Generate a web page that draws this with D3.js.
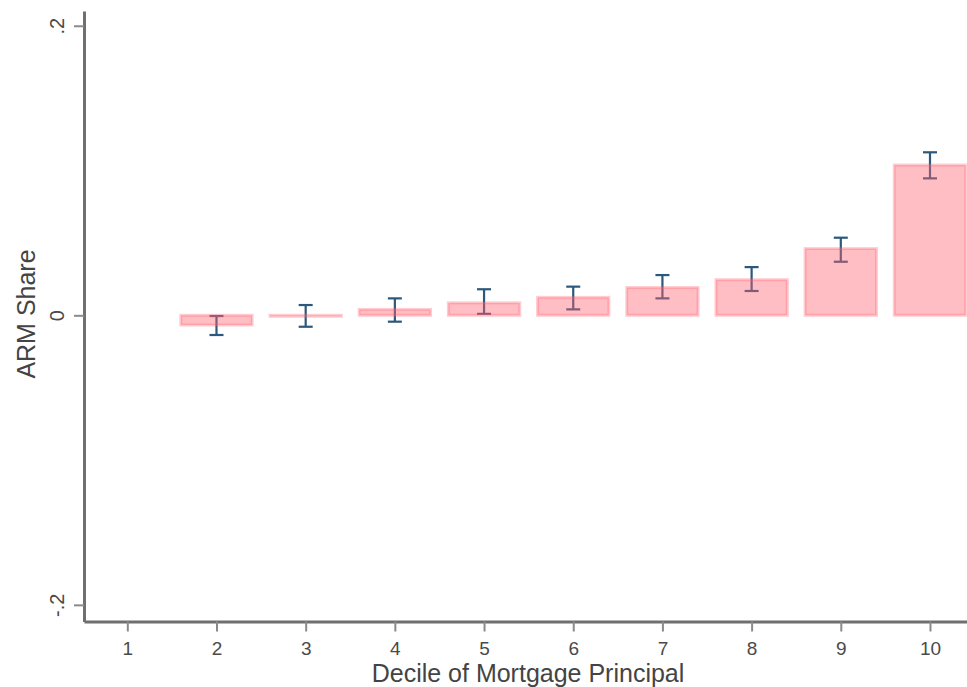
<!DOCTYPE html>
<html>
<head>
<meta charset="utf-8">
<script src="https://cdn.jsdelivr.net/npm/d3@7"></script>
<style>
  body { margin: 0; background: #fff; }
  text { font-family: "Liberation Sans", Arial, sans-serif; }
</style>
</head>
<body>
<div id="chart"></div>
<script>
// chart values
const deciles = [1, 2, 3, 4, 5, 6, 7, 8, 9, 10];
const coef    = [0, -0.0067, -0.0005, 0.0041, 0.0086, 0.0124, 0.0192, 0.0246, 0.0461, 0.1038];
const ciLow   = [null, -0.0136, -0.0079, -0.0044, 0.0010, 0.0041, 0.0117, 0.0168, 0.0370, 0.0946];
const ciHigh  = [null, -0.0005, 0.0071, 0.0117, 0.0180, 0.0198, 0.0278, 0.0333, 0.0536, 0.1126];
const yTicks  = [-0.2, 0, 0.2];

const width = 967, height = 687;
const barCol = "rgb(255,96,111)";
const ciCol = "#2b587c";
const axisCol = "#6f6f6f";

const svg = d3.select("#chart").append("svg")
  .attr("width", width)
  .attr("height", height);

// scales
const x = d3.scaleLinear().domain([0.5145, 10.415]).range([84, 967]);
const y = d3.scaleLinear().domain([-0.2115, 0.2102]).range([621.5, 11]);
const barW = x(1.8) - x(1);

const rows = deciles.map(function(d, i) {
  return {decile: d, b: coef[i], lo: ciLow[i], hi: ciHigh[i]};
});

// error bars (drawn under the translucent bars)
const ci = svg.append("g").attr("class", "ci")
  .selectAll("g")
  .data(rows.filter(function(d){ return d.lo !== null; }))
  .join("g")
    .attr("stroke", ciCol)
    .attr("stroke-width", 2.2);
ci.append("line")
  .attr("x1", d => x(d.decile)).attr("x2", d => x(d.decile))
  .attr("y1", d => y(d.lo)).attr("y2", d => y(d.hi));
ci.append("line")
  .attr("x1", d => x(d.decile) - 7).attr("x2", d => x(d.decile) + 7)
  .attr("y1", d => y(d.hi)).attr("y2", d => y(d.hi));
ci.append("line")
  .attr("x1", d => x(d.decile) - 7).attr("x2", d => x(d.decile) + 7)
  .attr("y1", d => y(d.lo)).attr("y2", d => y(d.lo));

// bars
svg.append("g").attr("class", "bars")
  .selectAll("rect")
  .data(rows.filter(function(d){ return d.decile !== 1; }))
  .join("rect")
    .attr("x", d => x(d.decile) - barW / 2)
    .attr("width", barW)
    .attr("y", d => Math.min(y(d.b), y(0)))
    .attr("height", d => Math.max(Math.abs(y(d.b) - y(0)), 1))
    .attr("fill", barCol)
    .attr("fill-opacity", 0.41)
    .attr("stroke", barCol)
    .attr("stroke-opacity", 0.32)
    .attr("stroke-width", 3);

// y axis
const yAxis = d3.axisLeft(y)
  .tickValues(yTicks)
  .tickSize(10)
  .tickSizeOuter(0)
  .tickFormat(function(d){ return d === 0 ? "0" : String(d).replace("0.", "."); });
const gy = svg.append("g")
  .attr("class", "axis y")
  .attr("transform", "translate(84,0)")
  .call(yAxis);
gy.select(".domain").attr("stroke", axisCol).attr("stroke-width", 3);
gy.selectAll(".tick line").attr("stroke", "#8a8a8a").attr("stroke-width", 2);
gy.selectAll(".tick text")
  .attr("x", null).attr("dy", null)
  .attr("transform", "translate(-20,0) rotate(-90)")
  .attr("text-anchor", "middle")
  .attr("fill", "#4a4a4a")
  .style("font-size", "20px");

// x axis
const xAxis = d3.axisBottom(x)
  .tickValues(deciles)
  .tickSize(10)
  .tickSizeOuter(0)
  .tickFormat(d3.format("d"));
const gx = svg.append("g")
  .attr("class", "axis x")
  .attr("transform", "translate(0,621.5)")
  .call(xAxis);
gx.select(".domain").attr("stroke", axisCol).attr("stroke-width", 3);
gx.selectAll(".tick line").attr("stroke", "#8a8a8a").attr("stroke-width", 2);
gx.selectAll(".tick text")
  .attr("y", 33).attr("dy", null)
  .attr("fill", "#4a4a4a")
  .style("font-size", "19px");

// axis titles
svg.append("text")
  .attr("x", 528)
  .attr("y", 682)
  .attr("text-anchor", "middle")
  .attr("fill", "#444")
  .style("font-size", "25px")
  .text("Decile of Mortgage Principal");

svg.append("text")
  .attr("transform", "translate(35,314) rotate(-90)")
  .attr("text-anchor", "middle")
  .attr("fill", "#444")
  .style("font-size", "25px")
  .text("ARM Share");
</script>
</body>
</html>
